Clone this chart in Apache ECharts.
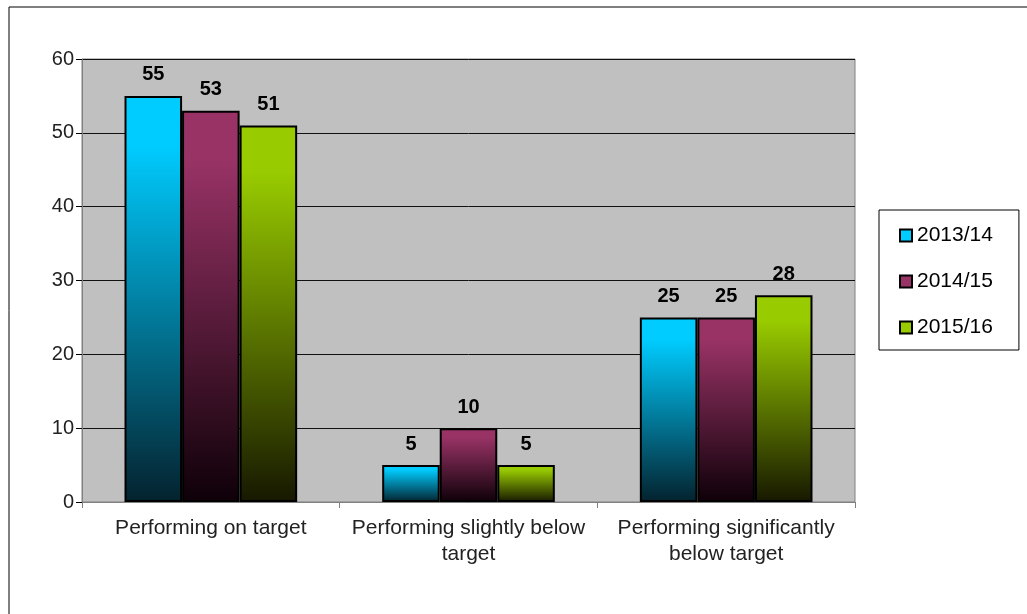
<!DOCTYPE html>
<html>
<head>
<meta charset="utf-8">
<script src="https://cdn.jsdelivr.net/npm/echarts@6/dist/echarts.min.js"></script>
<style>
  html, body { margin: 0; padding: 0; background: #fff; }
  #main { width: 1027px; height: 614px; }
</style>
</head>
<body>
<div id="main"></div>
<script>
const categories = ['Performing on target', 'Performing slightly below\ntarget', 'Performing significantly\nbelow target']
const years = ['2013/14', '2014/15', '2015/16']
const values2013 = [55, 5, 25]
const values2014 = [53, 10, 25]
const values2015 = [51, 5, 28]
const yTicks = { min: 0, max: 60, interval: 10 }

// top colour, bottom colour for each series
const colours = [
  ['#00ccff', '#04222e'],
  ['#993366', '#0e0008'],
  ['#99cc00', '#171800']
]

const chart = echarts.init(document.getElementById('main'))

function grad(c) {
  return new echarts.graphic.LinearGradient(0, 0, 0, 1, [
    { offset: 0, color: c[0] },
    { offset: 0.12, color: c[0] },
    { offset: 1, color: c[1] }
  ])
}

const seriesData = [values2013, values2014, values2015]

const option = {
  backgroundColor: '#ffffff',
  animation: false,
  graphic: [{
    type: 'polyline',
    shape: { points: [[9, 614], [9, 7], [1027, 7]] },
    style: { stroke: '#000', lineWidth: 1, fill: null },
    silent: true
  }],
  grid: {
    left: 82, top: 59, width: 773, height: 443,
    show: true,
    backgroundColor: '#c0c0c0',
    borderColor: '#808080',
    borderWidth: 1
  },
  legend: {
    orient: 'vertical',
    left: 879,
    top: 210,
    padding: [15, 26, 12, 20],
    itemGap: 25,
    itemWidth: 12,
    itemHeight: 12,
    borderColor: '#000',
    borderWidth: 1,
    textStyle: { fontFamily: 'Liberation Sans', fontSize: 21, color: '#000' },
    data: years.map((y, i) => ({
      name: y,
      icon: 'rect',
      itemStyle: { color: colours[i][0], borderColor: '#000', borderWidth: 2 }
    }))
  },
  xAxis: {
    type: 'category',
    data: categories,
    axisLine: { lineStyle: { color: '#808080' } },
    axisTick: { show: true, length: 6, lineStyle: { color: '#808080' } },
    axisLabel: {
      interval: 0,
      fontFamily: 'Liberation Sans', fontSize: 21, color: '#222', margin: 13, lineHeight: 26
    }
  },
  yAxis: {
    type: 'value',
    min: yTicks.min,
    max: yTicks.max,
    interval: yTicks.interval,
    axisLine: { show: true, lineStyle: { color: '#808080' } },
    axisTick: { show: true, length: 6, lineStyle: { color: '#000' } },
    splitLine: { lineStyle: { color: '#111', width: 1 } },
    axisLabel: { fontFamily: 'Liberation Sans', fontSize: 20, color: '#222', margin: 8 }
  },
  series: years.map((y, i) => ({
    name: y,
    type: 'bar',
    data: seriesData[i],
    barGap: '0%',
    barCategoryGap: '33%',
    itemStyle: { color: grad(colours[i]), borderColor: '#000', borderWidth: 2 },
    label: {
      show: true,
      position: 'top',
      distance: 11,
      fontFamily: 'Liberation Sans',
      fontWeight: 'bold',
      fontSize: 20,
      color: '#000'
    }
  }))
}

chart.setOption(option)
</script>
</body>
</html>
